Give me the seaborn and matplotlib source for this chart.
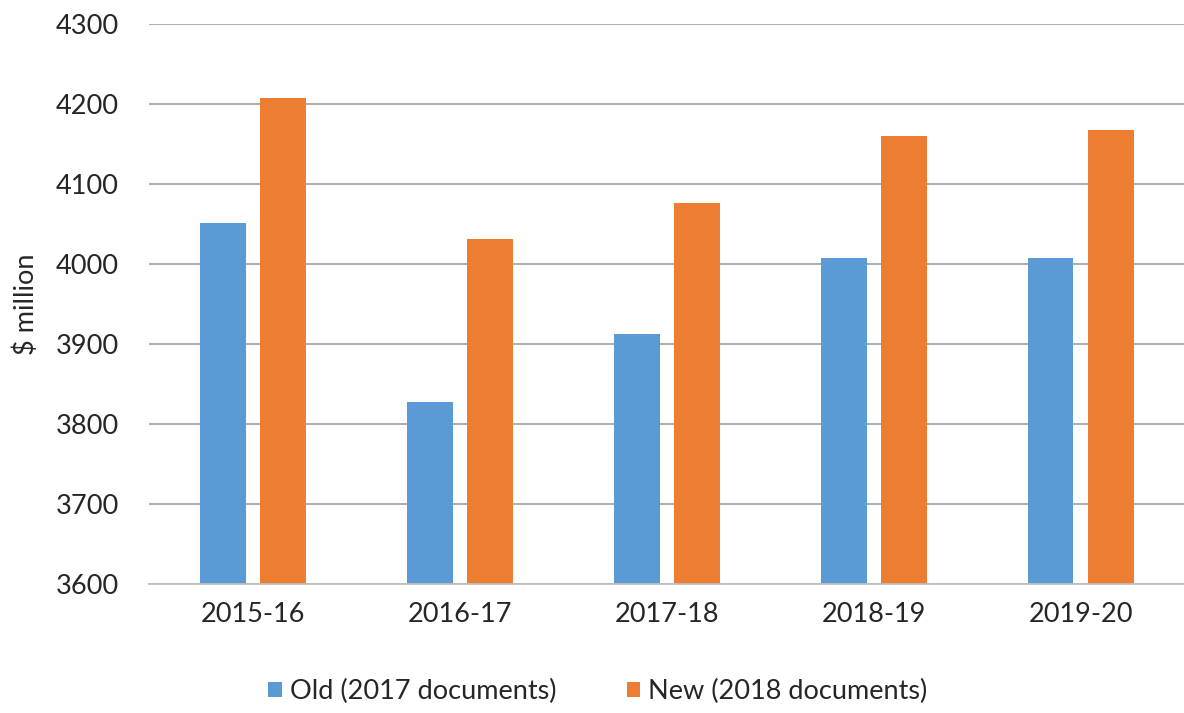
import matplotlib
matplotlib.use("Agg")
import matplotlib.pyplot as plt
import seaborn as sns
import pandas as pd

years = ["2015-16", "2016-17", "2017-18", "2018-19", "2019-20"]
old_values = [4052, 3828, 3913, 4008, 4008]
new_values = [4208, 4032, 4076, 4160, 4168]
series_names = ["Old (2017 documents)", "New (2018 documents)"]
colors = ["#5B9BD5", "#ED7D31"]
y_ticks = [3600, 3700, 3800, 3900, 4000, 4100, 4200, 4300]

df = pd.DataFrame({
    "year": years * 2,
    "value": old_values + new_values,
    "series": [series_names[0]] * len(years) + [series_names[1]] * len(years),
})

sns.set_theme(style="white")
plt.rcParams["font.family"] = ["Lato", "DejaVu Sans"]

fig = plt.figure(figsize=(11.84, 7.13), dpi=100)
ax = fig.add_axes([0.126, 0.181, 0.874, 0.785])

sns.barplot(data=df, x="year", y="value", hue="series", palette=colors,
            width=0.58, gap=0.234, ax=ax, legend=True, saturation=1,
            linewidth=0, edgecolor="none")

FS = 19.5
TXT = "#262626"
ax.set_ylim(3600, 4300)
ax.set_xlim(-0.5, 4.5)
ax.set_yticks(y_ticks)
ax.set_yticklabels([str(t) for t in y_ticks], fontsize=FS, color=TXT)
ax.tick_params(axis="x", labelsize=FS, labelcolor=TXT, length=0, pad=13)
ax.tick_params(axis="y", length=0, pad=22)
ax.yaxis.grid(True, color="#A6A6A6", linewidth=1.3)
ax.set_axisbelow(True)
for s in ["left", "right", "top"]:
    ax.spines[s].set_visible(False)
ax.spines["bottom"].set_color("#BFBFBF")
ax.spines["bottom"].set_linewidth(1.3)
ax.set_xlabel("")
ax.set_ylabel("$ million", fontsize=FS, color=TXT, labelpad=12)

handles, labels = ax.get_legend_handles_labels()
ax.legend_.remove()
fig.legend(handles, labels, loc="center", bbox_to_anchor=(0.505, 0.03), ncol=2,
           frameon=False, fontsize=FS, handlelength=0.5, handleheight=0.5,
           handletextpad=0.3, columnspacing=2.6, labelcolor=TXT)

fig.savefig("out.png", dpi=100)
